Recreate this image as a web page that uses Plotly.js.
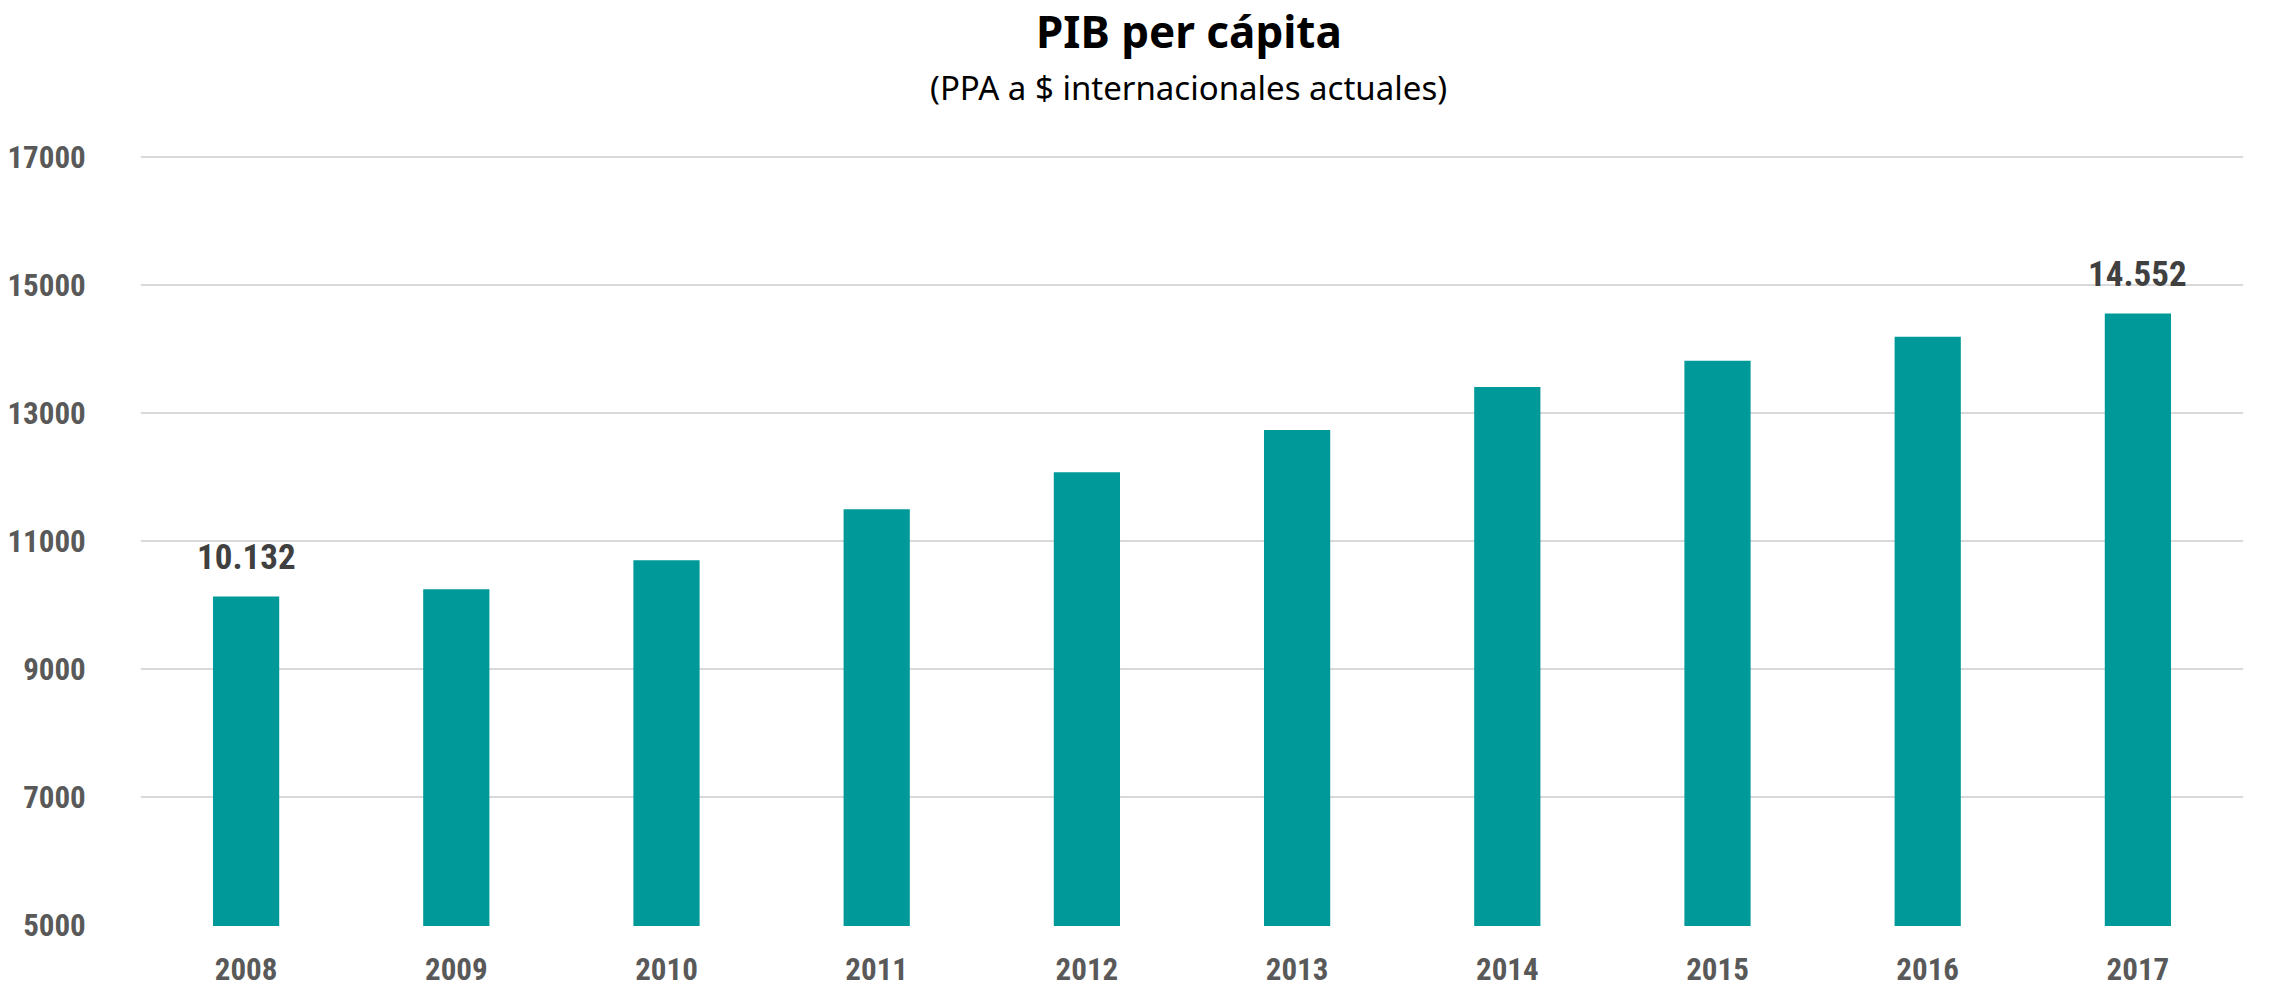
<!DOCTYPE html>
<html>
<head>
<meta charset="utf-8">
<script src="https://cdn.plot.ly/plotly-3.0.1.min.js"></script>
<style>
  html, body { margin: 0; padding: 0; background: #ffffff; }
  #chart { width: 2272px; height: 988px; }
</style>
</head>
<body>
<div id="chart"></div>
<script>
// ---- Data ----
const years = ['2008', '2009', '2010', '2011', '2012', '2013', '2014', '2015', '2016', '2017'];
const pibPerCapita = [10132, 10245, 10700, 11495, 12075, 12735, 13405, 13815, 14190, 14552];
const labeledIdx = [0, 9];
const yTicks = [5000, 7000, 9000, 11000, 13000, 15000, 17000];

const titleText = 'PIB per cápita';
const subtitleText = '(PPA a $ internacionales actuales)';

const FONT = '"Liberation Sans Narrow", "Arial Narrow", "Roboto Condensed", "Noto Sans", sans-serif';
const TITLE_FONT = '"Noto Sans", "Open Sans", sans-serif';

function fmt(v) {
  return String(v).replace(/\B(?=(\d{3})+(?!\d))/g, '.');
}

const trace = {
  type: 'bar',
  x: years,
  y: pibPerCapita,
  marker: { color: '#009999', line: { width: 0 } },
  hoverinfo: 'x+y'
};

const annotations = labeledIdx.map(i => ({
  x: i,
  y: pibPerCapita[i],
  xref: 'x', yref: 'y',
  text: '<b>' + fmt(pibPerCapita[i]) + '</b>',
  showarrow: false,
  yanchor: 'bottom',
  yshift: 17,
  font: { family: FONT, size: 35, color: '#404040' }
}));

annotations.push({
  xref: 'paper', yref: 'paper',
  x: 0.4985, y: 1.161,
  xanchor: 'center', yanchor: 'middle',
  text: '<b>' + titleText + '</b>',
  showarrow: false,
  font: { family: TITLE_FONT, size: 44, color: '#000000' }
});
annotations.push({
  xref: 'paper', yref: 'paper',
  x: 0.4985, y: 1.087,
  xanchor: 'center', yanchor: 'middle',
  text: subtitleText,
  showarrow: false,
  font: { family: TITLE_FONT, size: 33, color: '#000000' }
});

const layout = {
  width: 2272,
  height: 988,
  paper_bgcolor: '#ffffff',
  plot_bgcolor: '#ffffff',
  margin: { l: 141, r: 29, t: 155, b: 62 },
  bargap: 0.685,
  showlegend: false,
  xaxis: {
    type: 'category',
    range: [-0.5, years.length - 0.5],
    showgrid: false,
    zeroline: false,
    showline: false,
    ticks: 'outside',
    ticklen: 16,
    tickcolor: 'rgba(0,0,0,0)',
    tickfont: { family: FONT, size: 31, color: '#595959', weight: 'bold' }
  },
  yaxis: {
    range: [4985, 17030],
    tickmode: 'array',
    tickvals: yTicks,
    ticktext: yTicks.map(String),
    showgrid: true,
    gridcolor: '#d9d9d9',
    gridwidth: 2,
    zeroline: false,
    showline: false,
    ticks: 'outside',
    ticklen: 48,
    tickcolor: 'rgba(0,0,0,0)',
    tickfont: { family: FONT, size: 31, color: '#595959', weight: 'bold' }
  },
  annotations: annotations
};

Plotly.newPlot('chart', [trace], layout, { displayModeBar: false });
</script>
</body>
</html>
